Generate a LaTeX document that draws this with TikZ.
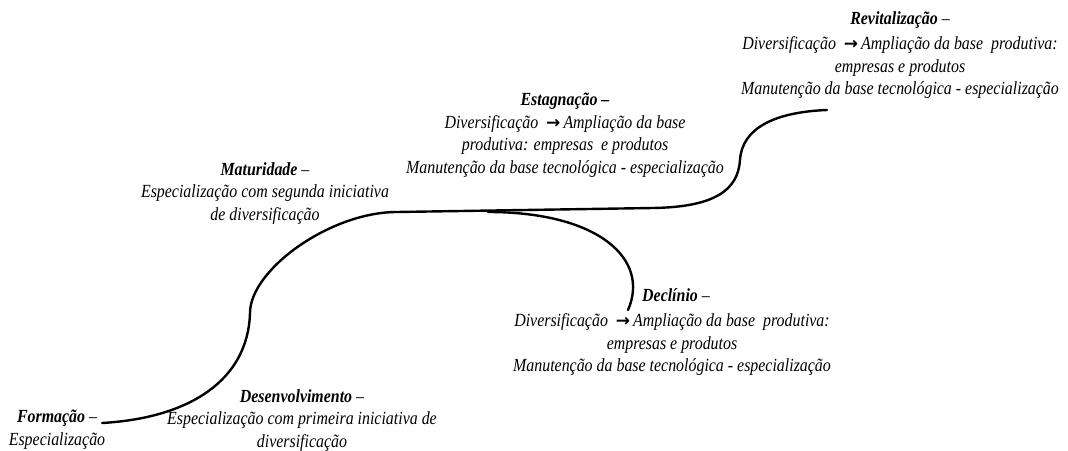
\documentclass[tikz,border=0pt]{standalone}
\usepackage{fontspec}
\setmainfont[FakeStretch=0.86]{Liberation Serif}
\newfontfamily\arrowfont{DejaVu Sans}
\newcommand{\arr}{{\upshape\bfseries\arrowfont\fontsize{17}{17}\selectfont →}}
\begin{document}
\begin{tikzpicture}[x=1pt,y=-1pt,
  phase/.style={align=center,inner sep=0pt,anchor=north,
    font=\fontsize{18.5}{22.5}\selectfont\itshape},
  curve/.style={line width=2.4pt,line cap=round}]
\useasboundingbox (0,0) rectangle (1068,450);
\clip (0,0) rectangle (1068,450);
% curve points
\coordinate (f) at (102,423);
\coordinate (m) at (250,313);
\coordinate (p) at (397,212);
\coordinate (d0) at (488,212);
\coordinate (q) at (653,208);
\coordinate (r) at (740,160);
\coordinate (rend) at (827,110);
\coordinate (dend) at (628,310);
% text blocks
\node[phase] (revit) at (900,11) {\textbf{Revitalização} –\\[3pt]
Diversificação \ \arr\,Ampliação da base \ produtiva:\\
empresas e produtos\\
Manutenção da base tecnológica - especialização};
\node[phase] (estag) at (565,93) {\textbf{Estagnação –}\\
Diversificação \ \arr\,Ampliação da base\\
produtiva: empresas \ e produtos\\
Manutenção da base tecnológica - especialização};
\node[phase] (matur) at (265,162) {\textbf{Maturidade} –\\
Especialização com segunda iniciativa\\
de diversificação};
\node[phase] (declin) at (672,288) {\hspace*{8pt}\textbf{Declínio} –\\[3pt]
Diversificação \ \arr\,Ampliação da base \ produtiva:\\
empresas e produtos\\
Manutenção da base tecnológica - especialização};
\node[phase] (desenv) at (302,389) {\textbf{Desenvolvimento} –\\
Especialização com primeira iniciativa de\\
diversificação};
\node[phase] (form) at (57,410) {\textbf{Formação} –\\
Especialização};
% curves
\draw[curve] (f) .. controls (190,418) and (248,380) .. (m)
  .. controls (250,270) and (330,212) .. (p) -- (q)
  .. controls (715,207) and (738,190) .. (r)
  .. controls (742,128) and (775,112) .. (rend);
\draw[curve] (d0) .. controls (600,212) and (650,260) .. (dend);
\end{tikzpicture}
\end{document}
